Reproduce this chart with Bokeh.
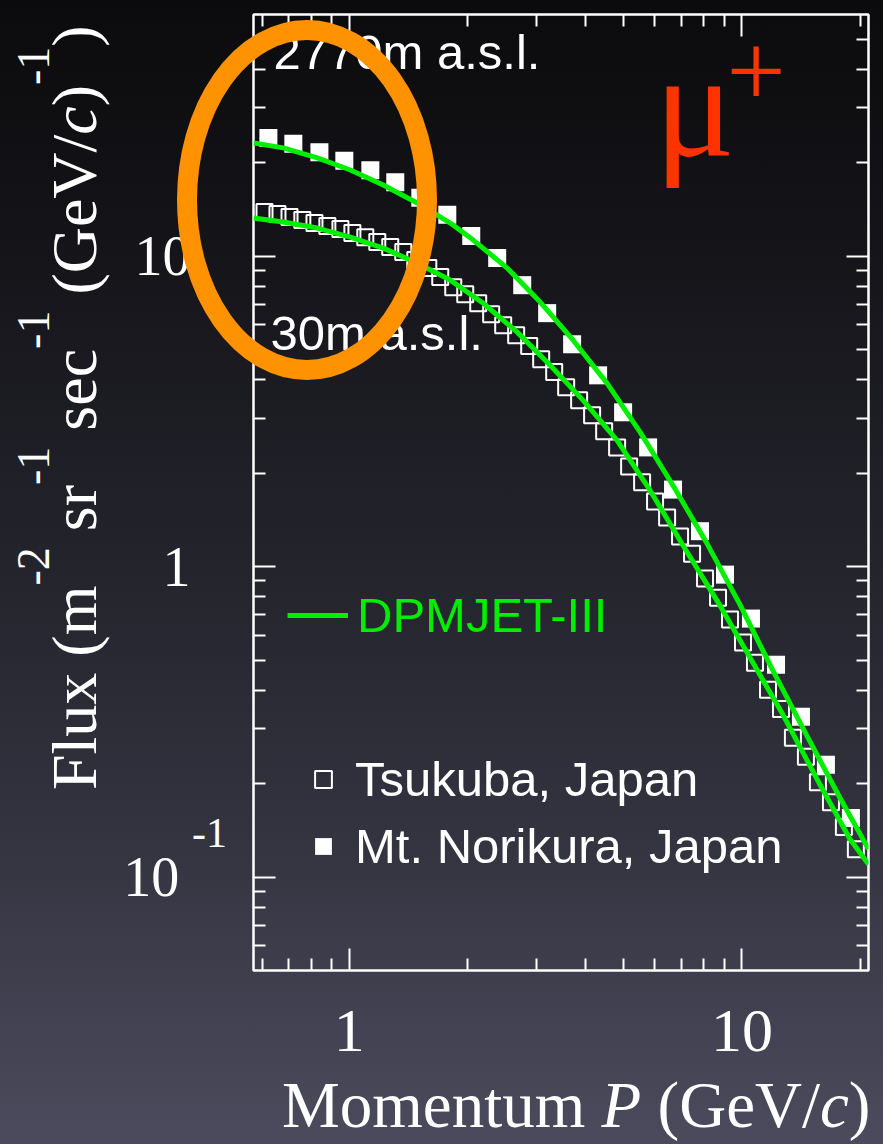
import math

from bokeh.embed import file_html
from bokeh.models import (Div, FixedTicker, GridBox, InlineStyleSheet, Label, Legend,
                          LegendItem, LogAxis, Range1d)
from bokeh.plotting import figure
from bokeh.resources import INLINE

# ---- measured muon (mu+) momentum spectra ----------------------------------
# momentum in GeV/c, flux in m^-2 sr^-1 s^-1 (GeV/c)^-1
norikura_p = [0.622, 0.720, 0.839, 0.971, 1.131, 1.309, 1.516, 1.776, 2.044, 2.380,
              2.756, 3.190, 3.693, 4.301, 4.980, 5.767, 6.674, 7.819, 9.052, 10.54,
              12.21, 14.13, 16.36, 18.94]
norikura_flux = [24.0, 23.0, 21.6, 20.3, 18.9, 17.3, 15.4, 13.6, 11.6, 9.86,
                 8.06, 6.55, 5.20, 4.13, 3.14, 2.42, 1.77, 1.30, 0.942, 0.680,
                 0.483, 0.328, 0.230, 0.155]

tsukuba_p = [0.608, 0.656, 0.704, 0.759, 0.815, 0.879, 0.949, 1.018, 1.098, 1.178,
             1.271, 1.372, 1.472, 1.589, 1.704, 1.839, 1.973, 2.129, 2.297, 2.465,
             2.660, 2.871, 3.080, 3.324, 3.566, 3.848, 4.152, 4.456, 4.808, 5.159,
             5.567, 6.006, 6.446, 6.955, 7.462, 8.052, 8.689, 9.322, 10.06, 10.79,
             11.65, 12.57, 13.48, 14.55, 15.61, 16.85, 18.18, 19.50]
tsukuba_flux = [13.87, 13.66, 13.36, 13.07, 12.78, 12.50, 12.22, 11.87, 11.51, 11.10,
                10.69, 10.30, 9.71, 9.15, 8.56, 7.94, 7.54, 7.05, 6.50, 5.99,
                5.56, 5.13, 4.65, 4.23, 3.78, 3.43, 3.07, 2.73, 2.42, 2.10,
                1.87, 1.62, 1.44, 1.25, 1.10, 0.915, 0.794, 0.675, 0.569, 0.490,
                0.401, 0.348, 0.281, 0.244, 0.202, 0.174, 0.145, 0.123]

# ---- DPMJET-III predictions --------------------------------------------------
dpm_norikura_p = [0.570, 0.679, 0.829, 1.006, 1.220, 1.489, 1.807, 2.068, 2.523, 3.062,
                  3.715, 4.535, 5.502, 6.674, 8.147, 9.883, 11.99, 14.64, 17.76, 21.0]
dpm_norikura_flux = [23.14, 22.31, 20.71, 18.94, 16.94, 14.83, 12.78, 11.26, 9.15, 7.11,
                     5.36, 3.89, 2.71, 1.825, 1.186, 0.754, 0.462, 0.285, 0.180, 0.123]

dpm_tsukuba_p = [0.570, 0.679, 0.829, 1.006, 1.220, 1.489, 1.807, 2.193, 2.676, 3.247,
                 3.939, 4.808, 5.834, 7.077, 8.638, 10.48, 12.72, 15.52, 18.83, 21.0]
dpm_tsukuba_flux = [13.26, 12.88, 12.31, 11.51, 10.61, 9.49, 8.37, 7.05, 5.69, 4.45,
                    3.43, 2.55, 1.759, 1.169, 0.777, 0.509, 0.333, 0.207, 0.1326, 0.110]

# ---- axes --------------------------------------------------------------------
x_limits = (0.57, 21.0)
y_limits = (0.05, 60.0)
x_major = [1, 10]
x_minor = [0.6, 0.7, 0.8, 0.9, 2, 3, 4, 5, 6, 7, 8, 9, 20]
y_major = [0.1, 1, 10]
y_minor = [0.06, 0.07, 0.08, 0.09, 0.2, 0.3, 0.4, 0.5, 0.6, 0.7, 0.8, 0.9,
           2, 3, 4, 5, 6, 7, 8, 9, 20, 30, 40, 50]
x_tick_labels = {1: "1", 10: "10"}
y_tick_labels = {0.1: "10\u2009", 1: "1", 10: "10"}

W, H = 883, 1144
WHITE = "white"
GREEN = "#00ee00"
MU_RED = "#ff3300"
RING = "#ff9200"
SERIF = "Liberation Serif"
SANS = "Liberation Sans"

background = InlineStyleSheet(css="""
:host {
  background: linear-gradient(180deg, #0b0b0d 0%, #16161b 25%, #24242d 50%,
                              #353542 75%, #4b4b5d 100%);
}
""")

p = figure(width=W, height=H,
           x_axis_type="log", y_axis_type="log",
           x_range=Range1d(*x_limits), y_range=Range1d(*y_limits),
           output_backend="svg", toolbar_location=None,
           min_border_left=253, min_border_right=15,
           min_border_top=14, min_border_bottom=174,
           background_fill_alpha=0, border_fill_alpha=0,
           outline_line_color=WHITE, outline_line_width=2.5,
           stylesheets=[background])
p.xgrid.visible = False
p.ygrid.visible = False

bottom_axis = p.below[0]
left_axis = p.left[0]
top_axis = LogAxis()
right_axis = LogAxis()
p.add_layout(top_axis, "above")
p.add_layout(right_axis, "right")

for ax in (bottom_axis, top_axis):
    ax.ticker = FixedTicker(ticks=x_major, minor_ticks=x_minor)
for ax in (left_axis, right_axis):
    ax.ticker = FixedTicker(ticks=y_major, minor_ticks=y_minor)

for ax in (bottom_axis, top_axis, left_axis, right_axis):
    ax.axis_line_color = None
    ax.major_tick_line_color = WHITE
    ax.major_tick_line_width = 2
    ax.minor_tick_line_color = WHITE
    ax.minor_tick_line_width = 2
    ax.major_tick_in = 22
    ax.major_tick_out = 0
    ax.minor_tick_in = 12
    ax.minor_tick_out = 0
    ax.major_label_text_font = SERIF

# mirrored tick marks only on the top and right edges
for ax in (top_axis, right_axis):
    ax.major_label_text_font_size = "2px"
    ax.major_label_text_color = None
    ax.major_label_standoff = 0

bottom_axis.major_label_overrides = x_tick_labels
bottom_axis.major_label_text_color = WHITE
bottom_axis.major_label_text_font_size = "62px"
bottom_axis.major_label_standoff = 40

left_axis.major_label_overrides = y_tick_labels
left_axis.major_label_text_color = WHITE
left_axis.major_label_text_font_size = "56px"
left_axis.major_label_standoff = 63

# ---- data --------------------------------------------------------------------
r_norikura = p.scatter(norikura_p, norikura_flux, marker="square", size=18,
                       fill_color=WHITE, line_color=None)
r_tsukuba = p.scatter(tsukuba_p, tsukuba_flux, marker="square", size=16,
                      fill_color=None, line_color=WHITE, line_width=2)
r_dpm_nor = p.line(dpm_norikura_p, dpm_norikura_flux, line_color=GREEN, line_width=5)
r_dpm_tsu = p.line(dpm_tsukuba_p, dpm_tsukuba_flux, line_color=GREEN, line_width=5)

# ---- legends -----------------------------------------------------------------
legend_style = dict(padding=0, margin=0, border_line_color=None,
                    background_fill_alpha=0, label_text_font=SANS,
                    label_text_font_size="49px", label_height=56, glyph_height=56)

model_legend = Legend(items=[LegendItem(label="DPMJET-III", renderers=[r_dpm_nor])],
                      location=(34, 327), glyph_width=61, label_standoff=9,
                      label_text_color=GREEN, **legend_style)
data_legend = Legend(items=[LegendItem(label="Tsukuba, Japan", renderers=[r_tsukuba]),
                            LegendItem(label="Mt. Norikura, Japan", renderers=[r_norikura])],
                     location=(49, 96), glyph_width=42, label_standoff=11, spacing=11,
                     label_text_color=WHITE, **legend_style)
p.add_layout(model_legend)
p.add_layout(data_legend)


def frame_label(x, baseline, text, size, color=WHITE, font=SERIF):
    """Text inside the plot frame, placed by its baseline in canvas pixels."""
    p.add_layout(Label(x=x, y=baseline - 0.34 * size, x_units="canvas", y_units="canvas",
                       text=text, text_font=font, text_font_size=f"{size}px",
                       text_color=color, text_align="left", text_baseline="middle"))


# altitude annotations and particle tag
frame_label(273, 68, "2770m a.s.l.", 49, font=SANS)
frame_label(270, 349, "30m a.s.l.", 49, font=SANS)
frame_label(654, 155, "\u03bc", 150, color=MU_RED)
frame_label(726, 107, "+", 105, color=MU_RED)

# ---- titles and highlight ring: they reach past the plot frame, so they sit
# on an HTML layer stacked over the canvas -----------------------------------
ASC = 0.8375  # baseline depth below the top of a line-height:1 box, in em


def box(left, baseline, size, html, extra=""):
    top = baseline - ASC * size
    return (f'<div style="position:absolute;left:{left:.1f}px;top:{top:.1f}px;'
            f"font-family:'{SERIF}';font-size:{size}px;line-height:1;color:{WHITE};"
            f'white-space:nowrap;{extra}">{html}</div>')


def sup(text, size=46, rise=47):
    return f'<span style="font-size:{size}px;position:relative;top:-{rise}px">{text}</span>'


x_title = box(282, 1127, 65, "Momentum <i>P</i> (GeV/<i>c</i>)")

# rotated a quarter turn counter-clockwise about its top-left corner: the text
# starts at y=790 and its baseline runs along x=97
y_title_html = (f"Flux (m{sup('-2')} sr{sup('-1')} sec{sup('-1')} "
                f"(GeV/<i>c</i>){sup('-1')})")
y_title = (f'<div style="position:absolute;left:{97 - ASC * 64:.1f}px;top:790px;'
           f"font-family:'{SERIF}';font-size:64px;line-height:1;color:{WHITE};"
           f'white-space:nowrap;transform-origin:0 0;transform:rotate(-90deg)">'
           f"{y_title_html}</div>")

tick_exponent = box(192, 847, 42, "-1")

ring = (f'<svg width="{W}" height="{H}" style="position:absolute;left:0;top:0">'
        f'<ellipse cx="307" cy="200" rx="120" ry="170" fill="none" '
        f'stroke="{RING}" stroke-width="20"/></svg>')

overlay = Div(text=(f'<div style="position:absolute;left:0;top:0;width:{W}px;'
                    f'height:{H}px;pointer-events:none">'
                    f"{x_title}{y_title}{tick_exponent}{ring}</div>"),
              width=W, height=H, margin=0)

page = GridBox(children=[(p, 0, 0), (overlay, 0, 0)])

open("out.html", "w").write(file_html(page, INLINE))
